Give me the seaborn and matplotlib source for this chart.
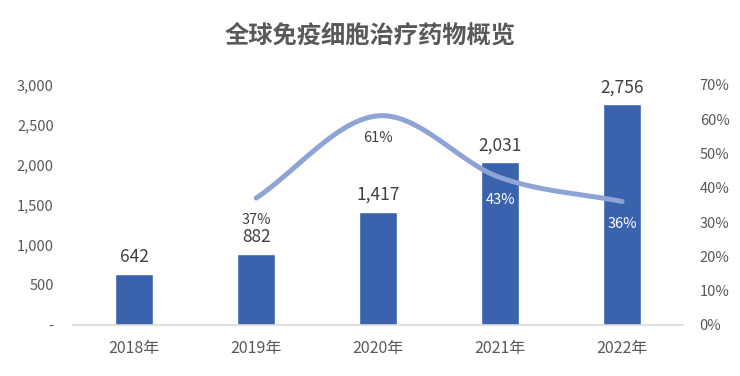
import numpy as np
import pandas as pd
import matplotlib
matplotlib.use('Agg')
import matplotlib.pyplot as plt
import seaborn as sns
from matplotlib.ticker import FuncFormatter

years = ['2018年', '2019年', '2020年', '2021年', '2022年']
sales = [642, 882, 1417, 2031, 2756]
growth_years = ['2019年', '2020年', '2021年', '2022年']
growth = [0.37, 0.61, 0.43, 0.36]
growth_label_colors = ['#404040', '#404040', 'white', 'white']

sns.set_theme(style='white')
plt.rcParams['font.family'] = ['Noto Sans CJK SC', 'DejaVu Sans']

bar_color = '#3A62AD'
line_color = '#8EA3D6'
text_gray = '#595959'

df = pd.DataFrame({'year': years, 'sales': sales})

fig = plt.figure(figsize=(7.4, 3.76), dpi=100)
ax = fig.add_axes([0.099, 0.136, 0.824, 0.638])
sns.barplot(data=df, x='year', y='sales', color=bar_color, width=0.31,
            saturation=1, ax=ax)
ax.set_ylim(0, 3000)
ax.set_yticks(np.arange(0, 3001, 500))
ax.yaxis.set_major_formatter(FuncFormatter(lambda v, p: '-' if v == 0 else f'{int(v):,}'))
ax.set_xlabel('')
ax.set_ylabel('')
for s in ['top', 'left', 'right']:
    ax.spines[s].set_visible(False)
ax.spines['bottom'].set_color('#D9D9D9')
ax.spines['bottom'].set_linewidth(1.2)
ax.tick_params(axis='y', length=0, labelsize=10.5, labelcolor=text_gray, pad=14)
ax.tick_params(axis='x', length=0, labelsize=11.5, labelcolor=text_gray, pad=11)

for i, v in enumerate(sales):
    ax.text(i, v + 100, f'{v:,}', ha='center', va='bottom', fontsize=12.5, color='#404040')

# smoothed growth line (Catmull-Rom through the data points)
ax2 = ax.twinx()
xs = np.array([years.index(y) for y in growth_years], dtype=float)
ys = np.array(growth)
px = np.concatenate([[2 * xs[0] - xs[1]], xs, [2 * xs[-1] - xs[-2]]])
py = np.concatenate([[2 * ys[0] - ys[1]], ys, [2 * ys[-1] - ys[-2]]])
cx, cy = [], []
t = np.linspace(0, 1, 40)
for k in range(1, len(px) - 2):
    for arr, out in ((px, cx), (py, cy)):
        p0, p1, p2, p3 = arr[k - 1], arr[k], arr[k + 1], arr[k + 2]
        out.extend(0.5 * ((2 * p1) + (-p0 + p2) * t + (2 * p0 - 5 * p1 + 4 * p2 - p3) * t ** 2
                          + (-p0 + 3 * p1 - 3 * p2 + p3) * t ** 3))
sns.lineplot(x=cx, y=cy, ax=ax2, color=line_color, linewidth=3.6, sort=False,
             solid_capstyle='round')
ax2.set_ylim(0, 0.7)
ax2.set_yticks(np.arange(0, 0.71, 0.1))
ax2.yaxis.set_major_formatter(FuncFormatter(lambda v, p: f'{v:.0%}'))
for s in ['top', 'left', 'right', 'bottom']:
    ax2.spines[s].set_visible(False)
ax2.tick_params(axis='y', length=0, labelsize=10.5, labelcolor=text_gray, pad=12)
ax2.grid(False)

for x0, g, c in zip(xs, growth, growth_label_colors):
    ax2.text(x0, g - 0.045, f'{g:.0%}', ha='center', va='top', fontsize=10.5, color=c)

ax.set_xlim(-0.5, 4.5)

fig.text(0.5, 0.905, '全球免疫细胞治疗药物概览', ha='center', va='center', fontsize=17.5,
         fontweight='bold', color=text_gray)

fig.savefig('out.png', dpi=100)
